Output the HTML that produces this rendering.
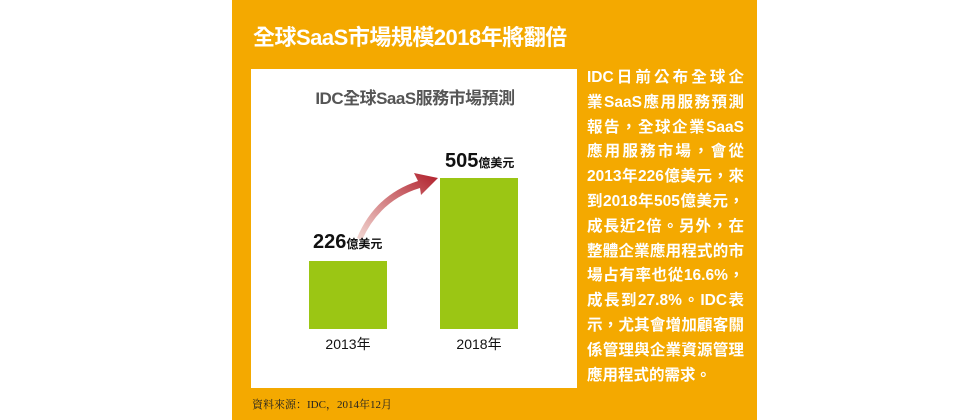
<!DOCTYPE html>
<html><head><meta charset="utf-8"><style>
body{margin:0;width:960px;height:420px;background:#fff;position:relative;overflow:hidden;font-family:"Liberation Sans","Noto Sans CJK TC",sans-serif}
.o{position:absolute;left:232px;top:0;width:525px;height:420px;background:#f4a900}
.t{position:absolute;left:253px;top:20px;font-size:22px;font-weight:bold;color:#fff;white-space:nowrap;letter-spacing:-0.5px}
.w{position:absolute;left:251px;top:69px;width:326px;height:319px;background:#fff}
.ct{position:absolute;left:308px;top:84px;width:214px;text-align:center;font-size:17px;font-weight:bold;color:#555;white-space:nowrap;letter-spacing:-0.5px}
.b{position:absolute;background:#9bc614}
.v{position:absolute;font-weight:bold;color:#111;white-space:nowrap;font-size:20px}
.v span{font-size:12px}
.y{position:absolute;font-size:14px;color:#111;width:80px;text-align:center}
.r{position:absolute;left:587px;top:66px;width:157px;color:#fff;font-weight:bold;font-size:15.5px}
.r div{height:24.8px;line-height:24.8px;text-align:justify;text-align-last:justify;white-space:nowrap}
.f{position:absolute;left:252px;top:396px;font-size:11px;font-family:"Liberation Serif","Noto Serif CJK SC",serif;color:#222}
</style></head><body>
<div class="o"></div>
<div class="t">全球SaaS市場規模2018年將翻倍</div>
<div class="w"></div>
<div class="ct">IDC全球SaaS服務市場預測</div>
<svg style="position:absolute;left:0;top:0" width="960" height="420">
<defs><linearGradient id="g" x1="0" y1="1" x2="1" y2="0"><stop offset="0" stop-color="#f3d9d4"/><stop offset="1" stop-color="#b01e2a"/></linearGradient></defs>
<path d="M357 238 Q375 195 418 181 L414 173 L438 178 L421 195 L420 188 Q380 200 362 240 Z" fill="url(#g)"/>
</svg>
<div class="b" style="left:309px;top:261px;width:78px;height:68px"></div>
<div class="b" style="left:440px;top:178px;width:78px;height:151px"></div>
<div class="v" style="left:313px;top:231px">226<span>億美元</span></div>
<div class="v" style="left:445px;top:150px">505<span>億美元</span></div>
<div class="y" style="left:308px;top:334px">2013年</div>
<div class="y" style="left:439px;top:334px">2018年</div>
<div class="r">
<div>IDC日前公布全球企</div><div>業SaaS應用服務預測</div><div>報告，全球企業SaaS</div><div>應用服務市場，會從</div><div>2013年226億美元，來</div><div>到2018年505億美元，</div><div>成長近2倍。另外，在</div><div>整體企業應用程式的市</div><div>場占有率也從16.6%，</div><div>成長到27.8%。IDC表</div><div>示，尤其會增加顧客關</div><div>係管理與企業資源管理</div><div style="text-align-last:left">應用程式的需求。</div>
</div>
<div class="f">資料來源：IDC，2014年12月</div>
</body></html>
